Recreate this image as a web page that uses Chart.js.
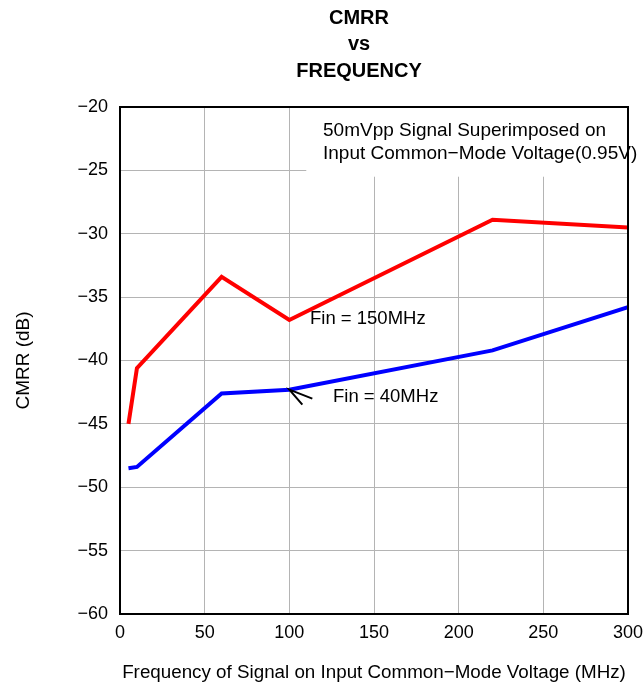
<!DOCTYPE html>
<html>
<head>
<meta charset="utf-8">
<script src="https://cdn.jsdelivr.net/npm/chart.js@4/dist/chart.umd.min.js"></script>
<style>
  html, body { margin: 0; padding: 0; background: #fff; }
  #chart { display: block; }
</style>
</head>
<body>
<canvas id="chart" width="643" height="683"></canvas>
<script>
// values
const freqFin150 = [5, 10, 60, 100, 220, 300];
const cmrrFin150 = [-45, -40.6, -33.4, -36.8, -28.9, -29.5];
const freqFin40 = [5, 10, 60, 100, 220, 300];
const cmrrFin40 = [-48.5, -48.4, -42.6, -42.3, -39.2, -35.8];

const titleLines = ['CMRR', 'vs', 'FREQUENCY'];
const noteLines = ['50mVpp Signal Superimposed on', 'Input Common\u2212Mode Voltage(0.95V)'];
const xTitle = 'Frequency of Signal on Input Common\u2212Mode Voltage (MHz)';
const yTitle = 'CMRR (dB)';

const FONT = "'Liberation Sans', Arial, Helvetica, sans-serif";

function toPoints(xs, ys) {
  return xs.map((x, i) => ({ x: x, y: ys[i] }));
}

const extras = {
  id: 'extras',
  beforeDatasetsDraw(chart) {
    const { ctx, chartArea, scales } = chart;
    // white box behind the note, hides the grid
    const left = scales.x.getPixelForValue(110);
    const bottom = scales.y.getPixelForValue(-25.5);
    ctx.save();
    ctx.fillStyle = '#fff';
    ctx.fillRect(left, chartArea.top, chartArea.right - left, bottom - chartArea.top);
    ctx.restore();
  },
  afterDatasetsDraw(chart) {
    const { ctx, chartArea, scales } = chart;
    ctx.save();
    // frame
    ctx.strokeStyle = '#000';
    ctx.lineWidth = 2;
    ctx.strokeRect(chartArea.left, chartArea.top, chartArea.right - chartArea.left, chartArea.bottom - chartArea.top);

    // title
    ctx.fillStyle = '#000';
    ctx.font = 'bold 20px ' + FONT;
    ctx.textAlign = 'center';
    ctx.textBaseline = 'middle';
    titleLines.forEach((t, i) => ctx.fillText(t, 359, 18 + i * 26.5));

    // note
    ctx.font = '19px ' + FONT;
    ctx.textAlign = 'left';
    noteLines.forEach((t, i) => ctx.fillText(t, 323, 131 + i * 23));

    // series labels
    ctx.font = '18.5px ' + FONT;
    ctx.fillText('Fin = 150MHz', 310, 319);
    ctx.fillText('Fin = 40MHz', 333, 397);

    // arrow to the blue line
    const tx = scales.x.getPixelForValue(100);
    const ty = scales.y.getPixelForValue(-42.3);
    ctx.lineWidth = 2;
    ctx.beginPath();
    ctx.moveTo(tx + 23, ty + 9);
    ctx.lineTo(tx, ty);
    ctx.lineTo(tx + 13, ty + 15);
    ctx.stroke();
    ctx.restore();
  }
};

new Chart(document.getElementById('chart'), {
  type: 'line',
  data: {
    datasets: [
      {
        label: 'Fin = 150MHz',
        data: toPoints(freqFin150, cmrrFin150),
        borderColor: '#ff0000',
        borderWidth: 4,
        pointRadius: 0,
        tension: 0,
      },
      {
        label: 'Fin = 40MHz',
        data: toPoints(freqFin40, cmrrFin40),
        borderColor: '#0000ff',
        borderWidth: 4,
        pointRadius: 0,
        tension: 0,
      },
    ],
  },
  options: {
    responsive: false,
    animation: false,
    devicePixelRatio: 1,
    layout: { padding: { top: 107, right: 15, left: 0, bottom: 0 } },
    plugins: {
      legend: { display: false },
      title: { display: false },
      tooltip: { enabled: false },
    },
    scales: {
      x: {
        type: 'linear',
        min: 0,
        max: 300,
        ticks: {
          stepSize: 50,
          color: '#000',
          padding: 8,
          font: { family: FONT, size: 18 },
        },
        grid: { color: '#b4b4b4', lineWidth: 1, drawTicks: false },
        border: { color: '#000', width: 2 },
        title: {
          display: true,
          text: xTitle,
          color: '#000',
          font: { family: FONT, size: 18.8 },
          padding: { top: 16, bottom: -1 },
        },
        afterFit(scale) {
          scale.height = 683 - 614;
          scale.paddingLeft = 0;
          scale.paddingRight = 0;
        },
      },
      y: {
        min: -60,
        max: -20,
        ticks: {
          stepSize: 5,
          color: '#000',
          padding: 12,
          font: { family: FONT, size: 18 },
          callback: (v) => (v < 0 ? '\u2212' + Math.abs(v) : String(v)),
        },
        grid: { color: '#b4b4b4', lineWidth: 1, drawTicks: false },
        border: { color: '#000', width: 2 },
        title: {
          display: true,
          text: yTitle,
          color: '#000',
          font: { family: FONT, size: 19 },
          padding: { top: 12, bottom: 0 },
        },
        afterFit(scale) {
          scale.width = 120;
          scale.paddingTop = 0;
          scale.paddingBottom = 0;
        },
      },
    },
  },
  plugins: [extras],
});
</script>
</body>
</html>
